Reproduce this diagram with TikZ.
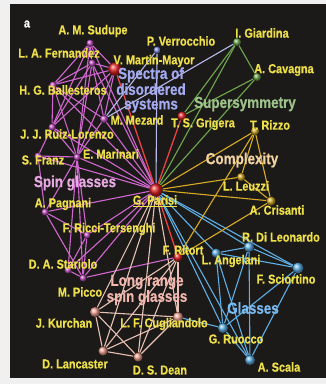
\documentclass[tikz,border=0pt]{standalone}
\usepackage{fontspec}
\newfontfamily\lblfont{Liberation Sans}[FakeStretch=0.84, BoldFeatures={FakeBold=0.5}]
\usetikzlibrary{positioning}

\pgfdeclarelayer{bg}
\pgfdeclarelayer{edges}
\pgfsetlayers{bg,edges,main}

\definecolor{panel}{HTML}{1C1A19}
\definecolor{nameyellow}{HTML}{EEE04A}
\definecolor{sgmag}{HTML}{C64CC6}
\definecolor{sglbl}{HTML}{E7A9E2}
\definecolor{sprlbl}{HTML}{A4AAF2}
\definecolor{sprnode}{HTML}{7F8FE6}
\definecolor{sprline}{HTML}{B8BCEC}
\definecolor{susyline}{HTML}{6FA84F}
\definecolor{susylbl}{HTML}{9DC28A}
\definecolor{cpxline}{HTML}{D8AC22}
\definecolor{cpxlbl}{HTML}{F2D3A2}
\definecolor{glline}{HTML}{5EB0E6}
\definecolor{gllbl}{HTML}{7BBAF0}
\definecolor{lrline}{HTML}{E8C2B4}
\definecolor{lrnode}{HTML}{F2A290}
\definecolor{lrlbl}{HTML}{F2B8B0}
\definecolor{hubred}{HTML}{E42222}

\begin{document}
\begin{tikzpicture}[x=1pt, y=-1pt,
  dot/.style={circle, inner sep=0pt, minimum size=#1, shading=ball},
  dot/.default=7pt,
  sg node/.style={dot=7pt, ball color=sgmag},
  red node/.style={dot=9pt, ball color=hubred},
  spr node/.style={dot=7pt, ball color=sprnode},
  susy node/.style={dot=8pt, ball color=susyline},
  cpx node/.style={dot=8pt, ball color=cpxline},
  gl node/.style={dot=10pt, ball color=glline},
  lr node/.style={dot=10pt, ball color=lrnode},
  person/.style={text=nameyellow, font=\lblfont\bfseries\fontsize{13}{13}\selectfont, inner sep=0pt},
  topic/.style={font=\lblfont\bfseries\fontsize{16}{14.5}\selectfont, align=center, inner sep=0pt},
  sg edge/.style={draw=sgmag!85!white, line width=1.1pt},
  spr edge/.style={draw=sprline, line width=1.1pt},
  susy edge/.style={draw=susyline, line width=1.1pt},
  cpx edge/.style={draw=cpxline, line width=1.1pt},
  gl edge/.style={draw=glline, line width=1.1pt},
  lr edge/.style={draw=lrline, line width=1.1pt},
  red edge/.style={draw=hubred!85!white, line width=1.3pt}]

  % frame
  \useasboundingbox (0,0) rectangle (326,384);
  \begin{pgfonlayer}{bg}
    \fill[white!94!black] (0,0) rectangle (326,384);
    \fill[panel] (10,4) rectangle (326,378);
  \end{pgfonlayer}
  \node[text=white, font=\lblfont\bfseries\fontsize{13}{13}\selectfont] (panel) at (27,24) {a};

  % Define nodes
  \node[red node, dot=13pt] (parisi) at (156,190) {};
  \node[red node, dot=13pt] (martin) at (115,69) {};
  \node[red node] (grigera) at (182,116) {};
  \node[red node] (ritort) at (178,257) {};

  \node[sg node] (sudupe) at (90,43) {};
  \node[sg node] (fernandez) at (92,63) {};
  \node[sg node] (ballesteros) at (53,85) {};
  \node[sg node] (ruiz) at (52,127) {};
  \node[sg node, dot=8pt] (mezard) at (104,119) {};
  \node[sg node] (franz) at (38,156) {};
  \node[sg node] (marinari) at (77,157) {};
  \node[sg node] (pagnani) at (45,212) {};
  \node[sg node] (ricci) at (87,235) {};
  \node[sg node] (stariolo) at (68,270) {};
  \node[sg node] (picco) at (83,278) {};

  \node[spr node] (verrocchio) at (157,50) {};
  \node[susy node] (giardina) at (237,42) {};
  \node[susy node] (cavagna) at (257,77) {};

  \node[cpx node] (rizzo) at (255,131) {};
  \node[cpx node] (leuzzi) at (241,177) {};
  \node[cpx node, dot=9pt] (crisanti) at (271,201) {};

  \node[gl node, dot=9pt] (angelani) at (216,253) {};
  \node[gl node] (dileonardo) at (249,247) {};
  \node[gl node, dot=11pt] (sciortino) at (298,268) {};
  \node[gl node] (ruocco) at (223,328) {};
  \node[gl node] (scala) at (250,360) {};

  \node[lr node] (kurchan) at (95,312) {};
  \node[lr node] (cugliandolo) at (178,317) {};
  \node[lr node, dot=9pt] (lancaster) at (103,351) {};
  \node[lr node, dot=9pt] (dean) at (138,357) {};

  % Define edges
  \begin{pgfonlayer}{edges}
  \path[sg edge]
    (sudupe) edge (fernandez) (sudupe) edge (ballesteros) (sudupe) edge (martin)
    (sudupe) edge (ruiz) (sudupe) edge (marinari) (sudupe) edge (parisi)
    (fernandez) edge (martin) (fernandez) edge (ballesteros) (fernandez) edge (ruiz)
    (fernandez) edge (marinari) (fernandez) edge (mezard) (fernandez) edge (parisi)
    (ballesteros) edge (martin) (ballesteros) edge (ruiz) (ballesteros) edge (marinari)
    (ballesteros) edge (mezard) (ballesteros) edge (parisi)
    (martin) edge (ruiz) (martin) edge (marinari) (martin) edge (mezard)
    (ruiz) edge (marinari) (ruiz) edge (parisi) (ruiz) edge (franz)
    (mezard) edge (parisi) (mezard) edge (marinari)
    (franz) edge (marinari) (franz) edge (parisi) (franz) edge (pagnani)
    (marinari) edge (parisi) (marinari) edge (pagnani) (marinari) edge (ricci)
    (marinari) edge (picco) (marinari) edge (stariolo)
    (pagnani) edge (parisi) (pagnani) edge (ricci) (pagnani) edge (picco)
    (ricci) edge (parisi) (ricci) edge (picco) (ricci) edge (stariolo)
    (stariolo) edge (picco) (stariolo) edge (parisi)
    (picco) edge (ritort) (picco) edge (parisi);

  \path[lr edge]
    (parisi) edge (kurchan) (parisi) edge (cugliandolo) (parisi) edge (lancaster)
    (parisi) edge (dean)
    (ritort) edge (kurchan) (ritort) edge (cugliandolo) (ritort) edge (lancaster)
    (ritort) edge (dean)
    (kurchan) edge (cugliandolo) (kurchan) edge (lancaster) (kurchan) edge (dean)
    (cugliandolo) edge (lancaster) (cugliandolo) edge (dean)
    (lancaster) edge (dean);

  \path[gl edge]
    (parisi) edge (angelani) (parisi) edge (dileonardo) (parisi) edge (sciortino)
    (parisi) edge (ruocco) (parisi) edge (scala)
    (angelani) edge (dileonardo) (angelani) edge (sciortino) (angelani) edge (ruocco)
    (angelani) edge (scala)
    (dileonardo) edge (sciortino) (dileonardo) edge (ruocco) (dileonardo) edge (scala)
    (sciortino) edge (ruocco) (sciortino) edge (scala)
    (ruocco) edge (scala)
    (cugliandolo) edge (ruocco);

  \path[cpx edge]
    (parisi) edge (rizzo) (parisi) edge (leuzzi) (parisi) edge (crisanti)
    (rizzo) edge (leuzzi) (rizzo) edge (crisanti) (leuzzi) edge (crisanti)
    (rizzo) edge (ritort) (crisanti) edge (ritort);

  \path[susy edge]
    (giardina) edge (cavagna) (giardina) edge (parisi) (cavagna) edge (parisi)
    (giardina) edge (grigera) (cavagna) edge (grigera);

  \path[spr edge]
    (verrocchio) edge (parisi) (verrocchio) edge (mezard) (giardina) edge (mezard);

  \path[red edge]
    (martin) edge (parisi) (grigera) edge (parisi) (ritort) edge (parisi);
  \end{pgfonlayer}

  % Define labels
  \node[person] (l-sudupe) at (93,31) {A. M. Sudupe};
  \node[person] (l-fernandez) at (59,53) {L. A. Fernandez};
  \node[person] (l-martin) at (154,61) {V. Martin-Mayor};
  \node[person] (l-ballesteros) at (63,90) {H. G. Ballesteros};
  \node[person] (l-mezard) at (137,120) {M. Mezard};
  \node[person] (l-ruiz) at (67,134) {J. J. Ruiz-Lorenzo};
  \node[person] (l-franz) at (43,160) {S. Franz};
  \node[person] (l-marinari) at (111,154) {E. Marinari};
  \node[person] (l-pagnani) at (63,204) {A. Pagnani};
  \node[person] (l-ricci) at (109,229) {F. Ricci-Tersenghi};
  \node[person] (l-stariolo) at (63,264) {D. A. Stariolo};
  \node[person] (l-picco) at (80,292) {M. Picco};
  \node[person] (l-parisi) at (155,201) {\underline{G. Parisi}};
  \node[person] (l-grigera) at (203,124) {T. S. Grigera};
  \node[person] (l-verrocchio) at (181,41) {P. Verrocchio};
  \node[person] (l-giardina) at (262,33) {I. Giardina};
  \node[person] (l-cavagna) at (284,70) {A. Cavagna};
  \node[person] (l-rizzo) at (270,125) {T. Rizzo};
  \node[person] (l-leuzzi) at (246,186) {L. Leuzzi};
  \node[person] (l-crisanti) at (277,210) {A. Crisanti};
  \node[person] (l-dileonardo) at (281,237) {R. Di Leonardo};
  \node[person] (l-angelani) at (231,261) {L. Angelani};
  \node[person] (l-sciortino) at (286,279) {F. Sciortino};
  \node[person] (l-ruocco) at (236,339) {G. Ruocco};
  \node[person] (l-scala) at (279,367) {A. Scala};
  \node[person] (l-ritort) at (183,250) {F. Ritort};
  \node[person] (l-kurchan) at (64,323) {J. Kurchan};
  \node[person] (l-cugliandolo) at (164,324) {L. F. Cugliandolo};
  \node[person] (l-lancaster) at (75,364) {D. Lancaster};
  \node[person] (l-dean) at (160,370) {D. S. Dean};

  % Define group labels
  \node[topic, text=sprlbl] (g-spectra) at (151,90) {Spectra of\\disordered\\systems};
  \node[topic, text=susylbl] (g-susy) at (245,104) {Supersymmetry};
  \node[topic, text=cpxlbl] (g-complexity) at (242,160) {Complexity};
  \node[topic, text=sglbl] (g-spin) at (75,183) {Spin glasses};
  \node[topic, text=lrlbl] (g-longrange) at (147,290) {Long range\\spin glasses};
  \node[topic, text=gllbl] (g-glasses) at (253,308) {Glasses};
\end{tikzpicture}
\end{document}
